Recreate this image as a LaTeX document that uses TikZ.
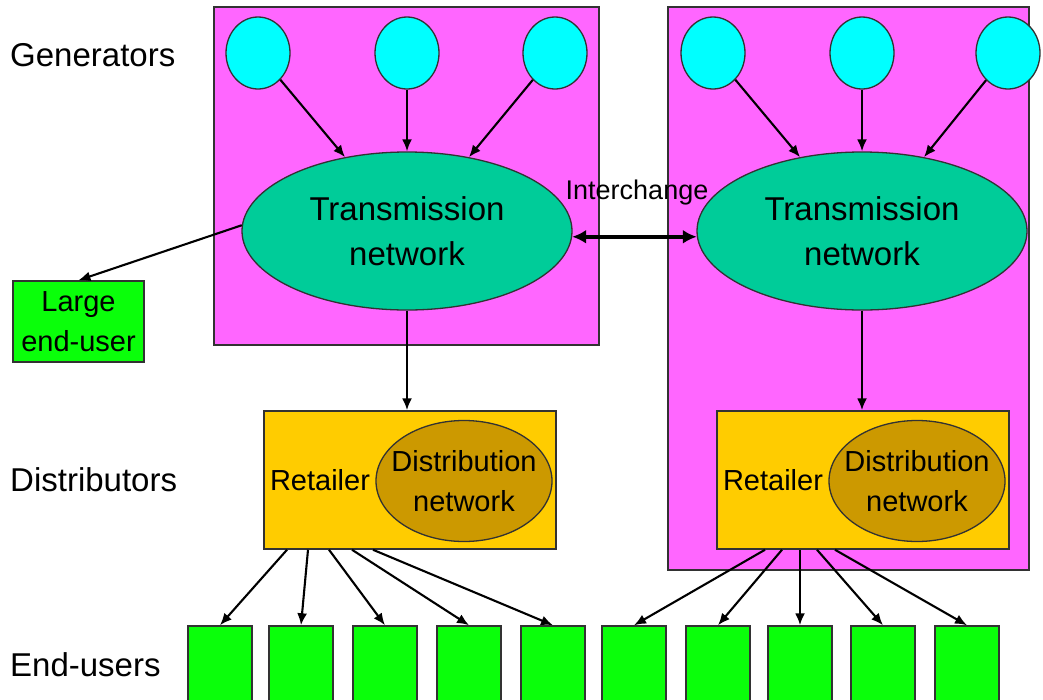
\documentclass[tikz,border=0pt]{standalone}
\usepackage{fontspec}
\setmainfont{Liberation Sans}
\usetikzlibrary{shapes.geometric,arrows.meta}

\definecolor{regionpink}{RGB}{255,102,255}
\definecolor{gencyan}{RGB}{0,255,255}
\definecolor{transteal}{RGB}{0,204,153}
\definecolor{distorange}{RGB}{255,204,0}
\definecolor{netolive}{RGB}{204,153,0}
\definecolor{usergreen}{RGB}{10,255,10}
\definecolor{edgegray}{RGB}{50,50,50}

\begin{document}
\begin{tikzpicture}[x=1pt,y=-1pt,
  region/.style={draw=edgegray,line width=1.5pt,fill=regionpink},
  gen/.style={ellipse,draw=edgegray,line width=1.3pt,fill=gencyan,
    minimum width=64pt,minimum height=72pt,inner sep=0pt},
  trans/.style={ellipse,draw=edgegray,line width=1.3pt,fill=transteal,
    minimum width=330pt,minimum height=158pt,inner sep=0pt},
  distbox/.style={rectangle,draw=edgegray,line width=1.5pt,fill=distorange,
    minimum width=292pt,minimum height=138pt,inner sep=0pt},
  distnet/.style={ellipse,draw=edgegray,line width=1.3pt,fill=netolive,
    minimum width=176pt,minimum height=121pt,inner sep=0pt},
  bigtext/.style={inner sep=0pt,align=center,font=\fontsize{33}{45}\selectfont},
  midtext/.style={inner sep=0pt,align=center,font=\fontsize{29}{40}\selectfont},
  user/.style={rectangle,draw=edgegray,line width=1.5pt,fill=usergreen,
    minimum width=64pt,minimum height=80pt,inner sep=0pt},
  bigusr/.style={rectangle,draw=edgegray,line width=1.5pt,fill=usergreen,
    minimum width=131pt,minimum height=81pt,inner sep=0pt,align=center,
    font=\fontsize{29}{40}\selectfont},
  tier/.style={anchor=west,inner sep=0pt,font=\fontsize{33}{40}\selectfont},
  flow/.style={-{Latex[length=12pt,width=10pt]},line width=2.1pt},
  link/.style={{Latex[length=14pt,width=14pt]}-{Latex[length=14pt,width=14pt]},line width=4pt}]

\useasboundingbox (0,0) rectangle (1043,699);
\clip (0,0) rectangle (1043,699);

% control areas
\draw[region] (214,7) rectangle (599,345);
\draw[region] (668,7) rectangle (1029,570);

% tier labels
\node[tier] (lgen) at (10,55) {Generators};
\node[tier] (ldist) at (10,480) {Distributors};
\node[tier] (lend) at (10,665) {End-users};

% generators
\node[gen] (g1) at (258,53) {};
\node[gen] (g2) at (407,53) {};
\node[gen] (g3) at (555,53) {};
\node[gen] (g4) at (713,53) {};
\node[gen] (g5) at (862,53) {};
\node[gen] (g6) at (1008,53) {};

% transmission networks
\node[trans] (t1) at (407,231) {};
\node[bigtext] (t1l) at (t1) {Transmission\\network};
\node[trans] (t2) at (862,231) {};
\node[bigtext] (t2l) at (t2) {Transmission\\network};

% large end-user
\node[bigusr] (big) at (78.5,321.5) {Large\\end-user};

% distributors
\node[distbox] (d1) at (410,480) {};
\node[distnet] (n1) at (464,481) {};
\node[midtext] (n1l) at (n1) {Distribution\\network};
\node[midtext] (r1) at (320,480) {Retailer};
\node[distbox] (d2) at (863,480) {};
\node[distnet] (n2) at (917,481) {};
\node[midtext] (n2l) at (n2) {Distribution\\network};
\node[midtext] (r2) at (773,480) {Retailer};

% end-users
\foreach \i/\x in {1/220,2/301,3/385,4/469,5/553,6/634,7/718,8/800,9/883,10/967}
  \node[user] (u\i) at (\x,666) {};

% generator feeds
\draw[flow] (g1) -- (t1.130);
\draw[flow] (g2) -- (t1.north);
\draw[flow] (g3) -- (t1.50);
\draw[flow] (g4) -- (t2.130);
\draw[flow] (g5) -- (t2.north);
\draw[flow] (g6) -- (t2.50);

% interchange
\draw[link] (t1.-2) -- (t2.182);
\node[inner sep=0pt,font=\fontsize{27}{32}\selectfont] (ich) at (637,193) {Interchange};

% transmission to large user and distributors
\draw[flow] (t1.178) -- (big.north);
\draw[flow] (t1.south) -- (t1.south |- d1.north);
\draw[flow] (t2.south) -- (t2.south |- d2.north);

% distribution to end-users
\draw[flow] ([xshift=-123pt]d1.south) -- (u1.north);
\draw[flow] ([xshift=-102pt]d1.south) -- (u2.north);
\draw[flow] ([xshift=-81pt]d1.south) -- (u3.north);
\draw[flow] ([xshift=-58pt]d1.south) -- (u4.north);
\draw[flow] ([xshift=-37pt]d1.south) -- (u5.north);
\draw[flow] ([xshift=-98pt]d2.south) -- (u6.north);
\draw[flow] ([xshift=-81pt]d2.south) -- (u7.north);
\draw[flow] ([xshift=-63pt]d2.south) -- (u8.north);
\draw[flow] ([xshift=-46pt]d2.south) -- (u9.north);
\draw[flow] ([xshift=-28pt]d2.south) -- (u10.north);
\end{tikzpicture}
\end{document}
